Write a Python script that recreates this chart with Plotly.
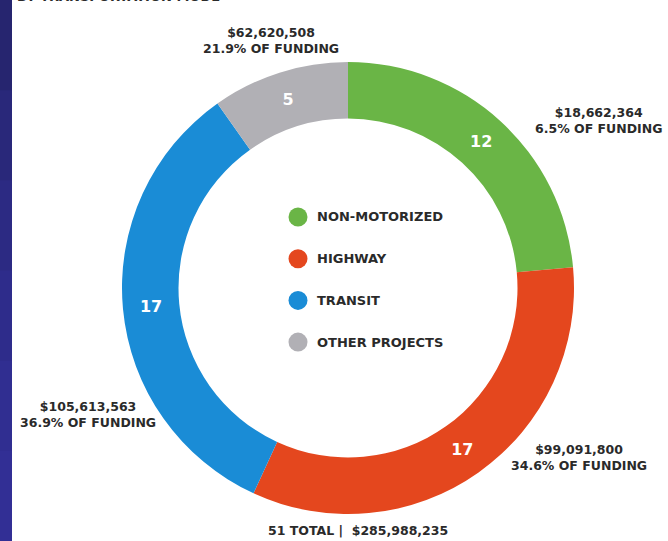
import plotly.graph_objects as go

# ---- data ----
categories = ["NON-MOTORIZED", "HIGHWAY", "TRANSIT", "OTHER PROJECTS"]
projects = [12, 17, 17, 5]
funding = [18662364, 99091800, 105613563, 62620508]
funding_pct = [6.5, 34.6, 36.9, 21.9]
colors = ["#6AB546", "#E4471E", "#1A8CD6", "#B1B0B5"]
total_projects = 51
total_funding = 285988235
subtitle = "BY TRANSPORTATION MODE"

W, H = 668, 541
FONT = "DejaVu Sans"
TXT = "#2a2a2a"


def px(x):
    return x / W


def py(y):
    return 1 - y / H


cx, cy, R = 348, 288, 226

fig = go.Figure()
fig.add_trace(go.Pie(
    labels=categories,
    values=projects,
    marker=dict(colors=colors, line=dict(width=0)),
    hole=0.75,
    sort=False,
    direction="clockwise",
    rotation=0,
    texttemplate="<b>%{value}</b>",
    textposition="inside",
    insidetextorientation="horizontal",
    textfont=dict(family=FONT, size=16, color="white"),
    domain=dict(x=[px(cx - R), px(cx + R)], y=[py(cy + R), py(cy - R)]),
    showlegend=False,
    hoverinfo="label+value",
))

annotations = []
# funding labels: positions per slice (pixel centres)
label_pos = [(598, 120), (579, 457), (88, 414), (271, 40)]
for (lx, ly), amt, pct in zip(label_pos, funding, funding_pct):
    annotations.append(dict(
        x=px(lx), y=py(ly), xref="paper", yref="paper",
        xanchor="center", yanchor="middle", showarrow=False,
        text=f"<b>${amt:,}</b><br><b>{pct}% OF FUNDING</b>",
        font=dict(family=FONT, size=12.5, color=TXT),
    ))

annotations.append(dict(
    x=px(358), y=py(530), xref="paper", yref="paper",
    xanchor="center", yanchor="middle", showarrow=False,
    text=f"<b>{total_projects} TOTAL |  ${total_funding:,}</b>",
    font=dict(family=FONT, size=12.5, color=TXT),
))

# cut-off subtitle at the very top (the reference shows only its lower part)
annotations.append(dict(
    x=px(15), y=py(-3), xref="paper", yref="paper",
    xanchor="left", yanchor="middle", showarrow=False,
    text=f"<b>{subtitle}</b>",
    font=dict(family=FONT, size=13, color=TXT),
))

shapes = []
# custom legend
for i, (cat, col) in enumerate(zip(categories, colors)):
    yy = 217 + 41.7 * i
    shapes.append(dict(
        type="circle", xref="paper", yref="paper",
        x0=px(298 - 9.5), x1=px(298 + 9.5), y0=py(yy + 9.5), y1=py(yy - 9.5),
        fillcolor=col, line=dict(width=0),
    ))
    annotations.append(dict(
        x=px(315), y=py(yy), xref="paper", yref="paper",
        xanchor="left", yanchor="middle", showarrow=False,
        text=f"<b>{cat}</b>",
        font=dict(family=FONT, size=13, color=TXT),
    ))

# dark blue strip on the left edge (slight vertical gradient)
strip_cols = ["#26256F", "#29287A", "#2C2A83", "#2E2C8B", "#302E91", "#322F95"]
n = len(strip_cols)
for i, c in enumerate(strip_cols):
    shapes.append(dict(
        type="rect", xref="paper", yref="paper",
        x0=0, x1=px(12), y0=max(0, 1 - (i + 1) / n - 0.01), y1=1 - i / n,
        fillcolor=c, line=dict(width=0), layer="below",
    ))

fig.update_layout(
    width=W, height=H,
    margin=dict(l=0, r=0, t=0, b=0),
    paper_bgcolor="white",
    plot_bgcolor="white",
    annotations=annotations,
    shapes=shapes,
)

fig.write_html(
    "out.html",
    config={"displayModeBar": False},
    post_script="document.body.style.margin='0';document.body.style.padding='0';",
)
